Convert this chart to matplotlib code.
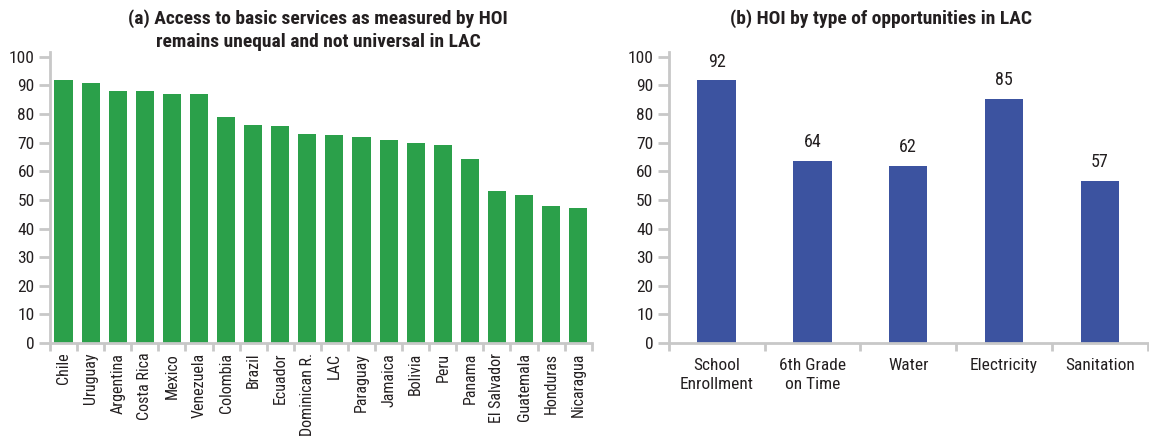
import matplotlib.pyplot as plt

countries = ["Chile", "Uruguay", "Argentina", "Costa Rica", "Mexico", "Venezuela",
             "Colombia", "Brazil", "Ecuador", "Dominican R.", "LAC", "Paraguay",
             "Jamaica", "Bolivia", "Peru", "Panama", "El Salvador", "Guatemala",
             "Honduras", "Nicaragua"]
hoi_country = [91.7, 91.0, 88.0, 88.0, 87.1, 87.1, 79.0, 76.3, 75.9, 73.1, 72.8,
               72.1, 71.0, 70.0, 69.0, 64.4, 53.2, 51.8, 48.0, 47.3]

opportunities = ["School\nEnrollment", "6th Grade\non Time", "Water", "Electricity", "Sanitation"]
hoi_opportunity = [91.7, 63.6, 61.9, 85.3, 56.7]
yticks = [0, 10, 20, 30, 40, 50, 60, 70, 80, 90, 100]

plt.rcParams["font.family"] = ["Roboto Condensed", "Roboto", "DejaVu Sans"]
GREY = "#c8c8c8"
TEXT = "#231f20"


def style_axis(ax, n):
	"""Light grey spines, outward ticks, category boundary ticks."""
	for side in ["top", "right"]:
		ax.spines[side].set_visible(False)
	for side in ["left", "bottom"]:
		ax.spines[side].set_color(GREY)
		ax.spines[side].set_linewidth(2)
	ax.set_ylim(0, 101.5)
	ax.set_yticks(yticks)
	ax.set_xlim(-0.5, n - 0.5)
	ax.set_xticks([i - 0.5 for i in range(n + 1)], minor=True)
	ax.tick_params(axis="x", which="minor", length=6, width=2, color=GREY)
	ax.tick_params(axis="x", which="major", length=0, pad=7, labelsize=11.5, labelcolor=TEXT)
	ax.tick_params(axis="y", length=8, width=2, color=GREY, labelsize=12.5, labelcolor=TEXT, pad=3)


fig = plt.figure(figsize=(11.49, 4.37), dpi=100)

# Left panel: HOI by country
ax1 = fig.add_axes([0.0435, 0.215, 0.4715, 0.665])
x1 = list(range(len(countries)))
ax1.bar(x1, hoi_country, width=0.67, color="#2ba04a")
style_axis(ax1, len(countries))
ax1.set_xticks(x1)
ax1.set_xticklabels(countries, rotation=90)
fig.text(0.277, 0.945, "(a) Access to basic services as measured by HOI",
	ha="center", va="baseline", fontsize=14, fontweight="bold", color=TEXT)
fig.text(0.277, 0.8924, "remains unequal and not universal in LAC",
	ha="center", va="baseline", fontsize=14, fontweight="bold", color=TEXT)

# Right panel: HOI by opportunity
ax2 = fig.add_axes([0.582, 0.215, 0.417, 0.665])
x2 = list(range(len(opportunities)))
ax2.bar(x2, hoi_opportunity, width=0.4, color="#3c53a0")
style_axis(ax2, len(opportunities))
ax2.set_xticks(x2)
ax2.set_xticklabels(opportunities, linespacing=1.3)
ax2.tick_params(axis="x", which="major", pad=11, labelsize=12.5)
for xi, v in zip(x2, hoi_opportunity):
	ax2.annotate(f"{v:.0f}", (xi, v), xytext=(0, 7), textcoords="offset points",
		ha="center", va="bottom", fontsize=13, color=TEXT)
fig.text(0.767, 0.945, "(b) HOI by type of opportunities in LAC",
	ha="center", va="baseline", fontsize=14, fontweight="bold", color=TEXT)

fig.savefig("out.png", dpi=100)
plt.close(fig)
